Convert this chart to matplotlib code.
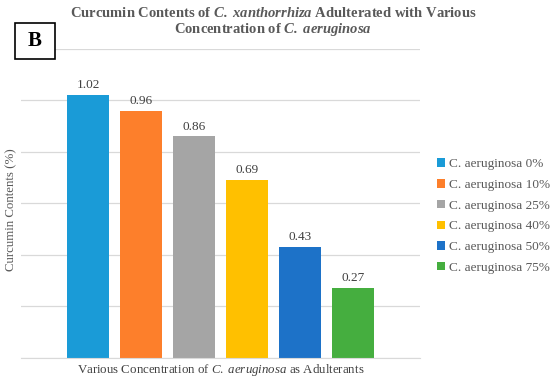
import matplotlib.pyplot as plt
from matplotlib.patches import Rectangle

plt.rcParams['font.family'] = 'Liberation Serif'
plt.rcParams['mathtext.fontset'] = 'custom'
plt.rcParams['mathtext.rm'] = 'Liberation Serif'
plt.rcParams['mathtext.it'] = 'Liberation Serif:italic'
plt.rcParams['mathtext.bf'] = 'Liberation Serif:bold'
plt.rcParams['mathtext.bfit'] = 'Liberation Serif:italic:bold'

labels = ['C. aeruginosa 0%', 'C. aeruginosa 10%', 'C. aeruginosa 25%',
          'C. aeruginosa 40%', 'C. aeruginosa 50%', 'C. aeruginosa 75%']
values = [1.02, 0.96, 0.86, 0.69, 0.43, 0.27]
colors = ['#1a9bd7', '#fd7f2b', '#a5a5a5', '#ffc000', '#1d72c8', '#45ae3f']

fig = plt.figure(figsize=(5.5, 3.79), dpi=100)
ax = fig.add_axes([21 / 550, 21.3 / 379, 399 / 550, 308.7 / 379])

for i, (lab, v, c) in enumerate(zip(labels, values, colors)):
    ax.bar(i, v, width=0.79, color=c, label=lab, zorder=2)
    ax.text(i, v + 0.015, f'{v:.2f}', ha='center', va='bottom', fontsize=9.5, color='#404040')

ax.set_xlim(-1.265, 6.265)
ax.set_ylim(0, 1.2)
ax.set_yticks([0, 0.2, 0.4, 0.6, 0.8, 1.0, 1.2])
ax.set_yticklabels([])
ax.set_xticks([])
ax.tick_params(length=0)
ax.grid(axis='y', color='#d9d9d9', linewidth=0.9, zorder=0)
for s in ['top', 'right', 'left']:
    ax.spines[s].set_visible(False)
ax.spines['bottom'].set_color('#d9d9d9')

fig.text(11 / 550, 1 - 210 / 379, 'Curcumin Contents (%)', rotation=90,
         ha='center', va='center', fontsize=9.3, color='#595959')
ax.set_xlabel(r'Various Concentration of $\mathit{C.\ aeruginosa}$ as Adulterants',
              fontsize=9.3, color='#404040', labelpad=3)

fig.text(273 / 550, 1 - 13 / 379, r'Curcumin Contents of $\mathbfit{C.\ xanthorrhiza}$ Adulterated with Various',
         ha='center', va='center', fontsize=10.5, fontweight='bold', color='#595959')
fig.text(273 / 550, 1 - 30 / 379, r'Concentration of $\mathbfit{C.\ aeruginosa}$',
         ha='center', va='center', fontsize=10.5, fontweight='bold', color='#595959')

fig.patches.append(Rectangle((15 / 550, 1 - 59 / 379), 40 / 550, 36 / 379,
                             transform=fig.transFigure, facecolor='white',
                             edgecolor='black', linewidth=1.2, zorder=5))
fig.text(35 / 550, 1 - 41 / 379, 'B', ha='center', va='center', fontsize=15,
         fontweight='bold', color='black', zorder=6)

ax.legend(loc='upper left', bbox_to_anchor=(432 / 550, 1 - 153 / 379),
          bbox_transform=fig.transFigure, frameon=False, fontsize=9.5,
          handlelength=0.6, handleheight=0.6, handletextpad=0.3,
          labelspacing=0.66, borderaxespad=0, labelcolor='#595959')

fig.savefig('out.png', dpi=100)
